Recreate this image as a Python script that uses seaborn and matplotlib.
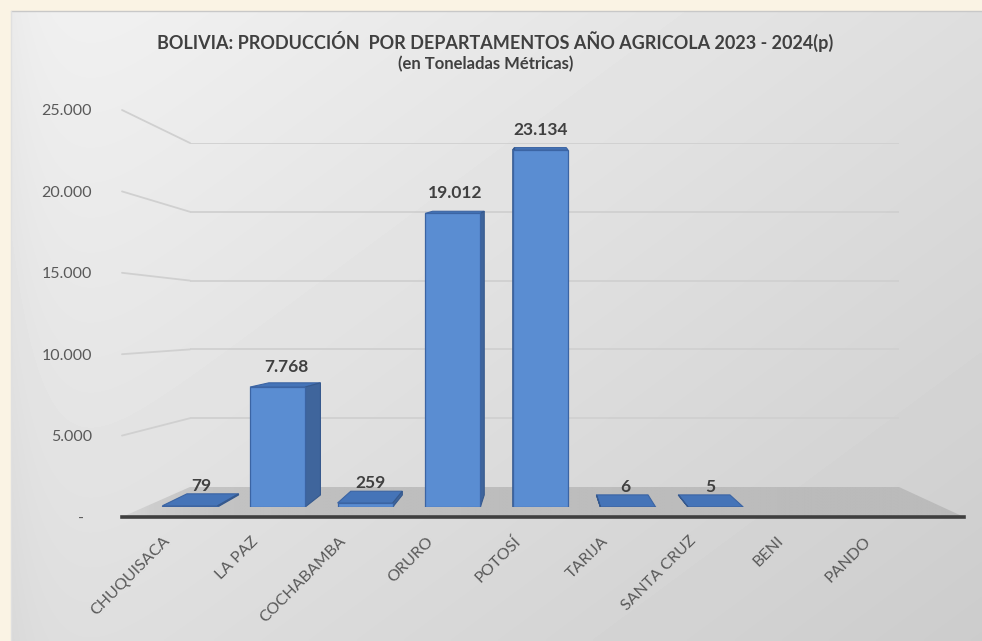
import matplotlib
matplotlib.use("Agg")
import matplotlib.pyplot as plt
import matplotlib.transforms as mtransforms
from matplotlib.patches import Polygon
import numpy as np
import pandas as pd
import seaborn as sns

# Data (toneladas métricas)
departamentos = ["CHUQUISACA", "LA PAZ", "COCHABAMBA", "ORURO", "POTOSÍ",
                 "TARIJA", "SANTA CRUZ", "BENI", "PANDO"]
produccion = [79, 7768, 259, 19012, 23134, 6, 5, None, None]
y_ticks = [0, 5000, 10000, 15000, 20000, 25000]
titulo = "BOLIVIA: PRODUCCIÓN  POR DEPARTAMENTOS AÑO AGRICOLA 2023 - 2024(p)"
subtitulo = "(en Toneladas Métricas)"

df = pd.DataFrame({"departamento": departamentos, "produccion": produccion})
df = df.dropna()

W, H = 982, 641
FONT = ["Lato", "DejaVu Sans"]
TXT = "#404040"


def rect(left, top, right, bottom):
    # pixel box -> figure fraction
    return [left / W, 1 - bottom / H, (right - left) / W, (bottom - top) / H]


def miles(v):
    if v == 0:
        return "-"
    return f"{v:,.0f}".replace(",", ".")


def px_shift(dx, dy=0):
    return mtransforms.ScaledTranslation(dx / 100, dy / 100, fig.dpi_scale_trans)


sns.set_theme(style="white")
plt.rcParams["font.family"] = FONT

fig = plt.figure(figsize=(W / 100, H / 100), dpi=100)
fig.patch.set_facecolor("#faf3e4")

# background panel (pixel coordinates)
bg = fig.add_axes([0, 0, 1, 1], zorder=0)
bg.set_xlim(0, W)
bg.set_ylim(H, 0)
bg.axis("off")
u = np.linspace(0, 1, 300)
v = np.linspace(0, 1, 200)
U, V = np.meshgrid(u, v)
shade = 0.95 - 0.08 * U - 0.07 * V - 0.03 * np.exp(-U * 30)
bg.imshow(shade, cmap="gray", vmin=0, vmax=1, extent=(11, W, H, 11),
          aspect="auto", interpolation="bilinear", zorder=0)
bg.plot([11, W], [11, 11], color="#c8c8c8", lw=1, zorder=1)
bg.plot([11, 11], [11, H], color="#e0e0e0", lw=1, zorder=1)

# back wall with gridlines
wall = fig.add_axes(rect(190, 143, 899, 487), zorder=1)
wall.set_xlim(0, 1)
wall.set_ylim(0, 25000)
wall.axis("off")
for t in y_ticks[1:]:
    wall.axhline(t, color="#d0d0d0", lw=1.3)

# front plane: y tick labels and axis line
front = fig.add_axes(rect(122, 110, 964, 517), zorder=2)
front.set_xlim(0, 1)
front.set_ylim(0, 25000)
front.patch.set_visible(False)
for s in ["top", "right", "left"]:
    front.spines[s].set_visible(False)
front.spines["bottom"].set_color("#3f3f3f")
front.spines["bottom"].set_linewidth(2.6)
front.set_xticks([])
front.set_yticks(y_ticks)
front.set_yticklabels([miles(t) for t in y_ticks], fontsize=11.5, color="#595959")
front.tick_params(axis="y", length=0, pad=21.5)
dash = front.get_yticklabels()[0]
dash.set_transform(dash.get_transform() + px_shift(-8))

# left wall slanted gridlines and floor, from front/back transforms
to_bg = bg.transData.inverted()
for t in y_ticks[1:]:
    p0 = to_bg.transform(front.transData.transform((0, t)))
    p1 = to_bg.transform(wall.transData.transform((0, t)))
    bg.plot([p0[0], p1[0]], [p0[1], p1[1]], color="#d0d0d0", lw=1.3, zorder=2)

fl = [to_bg.transform(front.transData.transform((0, 0))),
      to_bg.transform(wall.transData.transform((0, 0))),
      to_bg.transform(wall.transData.transform((1, 0))),
      to_bg.transform(front.transData.transform((1, 0)))]
floor = Polygon(fl, closed=True, facecolor="none", edgecolor="none", zorder=3)
bg.add_patch(floor)
xs = [p[0] for p in fl]
ys = [p[1] for p in fl]
ramp = np.tile(np.linspace(0, 1, 200), (20, 1))
grad = 0.75 - 0.02 * ramp + 0.09 * np.exp(-ramp * 14)
im = bg.imshow(grad, cmap="gray", vmin=0, vmax=1,
               extent=(min(xs), max(xs), max(ys), min(ys)),
               aspect="auto", interpolation="bilinear", zorder=3)
im.set_clip_path(floor)

# bars
ax = fig.add_axes(rect(122, 121, 964, 507), zorder=3)
ax.patch.set_visible(False)
sns.barplot(data=df, x="departamento", y="produccion", order=departamentos,
            color="#5a8dd2", saturation=1, width=0.63, ax=ax,
            edgecolor="#3b64a3", linewidth=0.9, zorder=4)
ax.set_xlim(-0.776, 8.836)
ax.set_ylim(0, 25000)
ax.set_xlabel("")
ax.set_ylabel("")
ax.set_yticks([])
sns.despine(ax=ax, left=True, bottom=True)

# pseudo 3D faces
vx, vy = 540, H - 322
kx, ky = 0.065, 0.065


def back(px, py):
    dy = max(ky * (vy - py), 2.2)
    return px + kx * (vx - px), py + dy


inv = ax.transData.inverted()
for bar in ax.patches:
    h = bar.get_height()
    if not np.isfinite(h):
        continue
    x0, y0 = ax.transData.transform((bar.get_x(), 0))
    x1, y1 = ax.transData.transform((bar.get_x() + bar.get_width(), h))
    bx0, by1 = back(x0, y1)
    bx1, _ = back(x1, y1)
    top = [(x0, y1), (x1, y1), (bx1, by1), (bx0, by1)]
    ax.add_patch(Polygon(inv.transform(top), closed=True, facecolor="#4574b8",
                         edgecolor="#3b64a3", lw=0.8, zorder=3))
    xc = (x0 + x1) / 2
    xs_ = x1 if xc < vx else x0
    sb = back(xs_, y0)
    st = back(xs_, y1)
    side = [(xs_, y0), (xs_, y1), st, sb]
    ax.add_patch(Polygon(inv.transform(side), closed=True, facecolor="#3f659c",
                         edgecolor="#36598d", lw=0.8, zorder=3))
    lx = (xc + (bx0 + bx1) / 2) / 2
    lpos = inv.transform((lx, y1 + 20))
    ax.text(lpos[0], lpos[1], miles(h), ha="center", va="center",
            fontsize=12.5, fontweight="bold", color=TXT, zorder=6)

ax.set_xticks(range(len(departamentos)))
ax.set_xticklabels(departamentos, rotation=45, ha="right", va="center",
                   rotation_mode="anchor", fontsize=11.5, color="#595959")
ax.tick_params(axis="x", length=0, pad=23)
for lab in ax.get_xticklabels():
    lab.set_transform(lab.get_transform() + px_shift(-22))

# titles
fig.text(495 / W, 1 - 41 / H, titulo, ha="center", va="center",
         fontsize=13, fontweight="bold", color=TXT)
fig.text(486 / W, 1 - 64 / H, subtitulo, ha="center", va="center",
         fontsize=12, fontweight="bold", color=TXT)

fig.savefig("out.png", dpi=100, facecolor=fig.get_facecolor())
